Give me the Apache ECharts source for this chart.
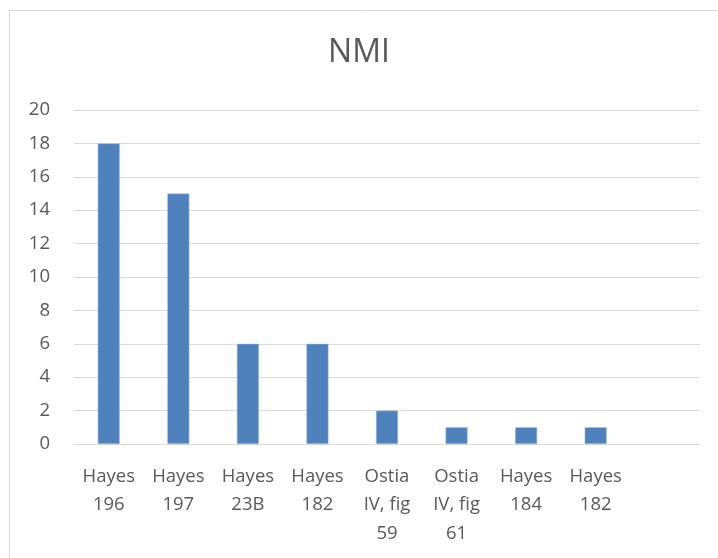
<!DOCTYPE html>
<html>
<head>
<meta charset="utf-8">
<script src="https://cdn.jsdelivr.net/npm/echarts@6/dist/echarts.min.js"></script>
<style>
  html, body { margin: 0; padding: 0; background: #fff; }
  #chart { width: 718px; height: 558px; }
</style>
</head>
<body>
<div id="chart"></div>
<script>
// Category labels (line breaks as they wrap under each bar)
const categories = [
  'Hayes\n196', 'Hayes\n197', 'Hayes\n23B', 'Hayes\n182',
  'Ostia\nIV, fig\n59', 'Ostia\nIV, fig\n61', 'Hayes\n184', 'Hayes\n182', ''
];
// Counts per type
const values = [18, 15, 6, 6, 2, 1, 1, 1, null];
// Value-axis ticks
const yMin = 0, yMax = 20, yStep = 2;

const textColor = '#595959';
const fontFamily = '"Open Sans", "Liberation Sans", sans-serif';

const chart = echarts.init(document.getElementById('chart'), null, { renderer: 'canvas' });
chart.setOption({
  animation: false,
  backgroundColor: '#fff',
  graphic: [{
    type: 'rect',
    shape: { x: 9.5, y: 10.5, width: 760, height: 600 },
    style: { fill: 'none', stroke: '#d9d9d9', lineWidth: 1 },
    silent: true
  }],
  title: {
    text: 'NMI',
    left: 'center',
    top: 32,
    textStyle: { color: textColor, fontFamily, fontSize: 32, fontWeight: 'normal' }
  },
  grid: { left: 74, right: 18, top: 110, bottom: 114, containLabel: false },
  xAxis: {
    type: 'category',
    data: categories,
    axisLine: { lineStyle: { color: '#d9d9d9', width: 1 } },
    axisTick: { show: false },
    axisLabel: {
      interval: 0,
      color: textColor,
      fontFamily,
      fontSize: 18.5,
      lineHeight: 28.5,
      margin: 18
    }
  },
  yAxis: {
    type: 'value',
    min: yMin,
    max: yMax,
    interval: yStep,
    axisLine: { show: false },
    axisTick: { show: false },
    splitLine: { lineStyle: { color: '#d9d9d9', width: 1 } },
    axisLabel: { color: textColor, fontFamily, fontSize: 18.5, margin: 24 }
  },
  series: [{
    type: 'bar',
    data: values,
    barWidth: 22,
    itemStyle: { color: '#4f81bd', borderColor: '#a9c0e0', borderWidth: 0.5 }
  }]
});
</script>
</body>
</html>
